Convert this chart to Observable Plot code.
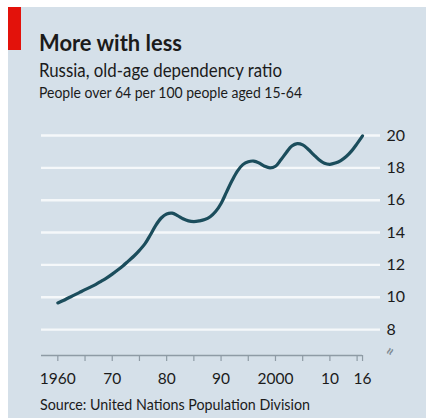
<!DOCTYPE html>
<html>
<head>
<meta charset="utf-8">
<script src="https://cdn.jsdelivr.net/npm/d3@7"></script>
<script src="https://cdn.jsdelivr.net/npm/@observablehq/plot@0.6"></script>
<style>
  html, body { margin: 0; padding: 0; background: #fff; }
  #card {
    position: relative; width: 426px; height: 418px; overflow: hidden; background: #fff;
    font-family: Lato, "Noto Sans", sans-serif; color: #1b1b1b;
  }
  #panel { position: absolute; left: 8px; top: 7px; right: 0; bottom: 0; background: #d5e0e9; }
  #flag { position: absolute; left: 8px; top: 7px; width: 13px; height: 43px; background: #e3120b; }
  #chart { position: absolute; left: 0; top: 115px; }
  #heads { position: absolute; left: 0; top: 0; }
  #heads text { fill: #1b1b1b; }
</style>
</head>
<body>
<div id="card">
  <div id="panel"></div>
  <div id="flag"></div>
  <svg id="heads" width="426" height="418" font-family="Lato, 'Noto Sans', sans-serif">
    <text x="39" y="50.5" font-size="23.5" font-weight="bold" textLength="143" lengthAdjust="spacingAndGlyphs">More with less</text>
    <text x="39" y="77.3" font-size="18.5" textLength="243" lengthAdjust="spacingAndGlyphs">Russia, old-age dependency ratio</text>
    <text x="39" y="98.3" font-size="15.5" textLength="263" lengthAdjust="spacingAndGlyphs">People over 64 per 100 people aged 15-64</text>
    <text x="40" y="410" font-size="16" textLength="270" lengthAdjust="spacingAndGlyphs">Source: United Nations Population Division</text>
  </svg>
  <div id="chart"></div>
</div>
<script>
// Old-age dependency ratio, Russia, 1960-2016
const years = [
  1960, 1961, 1962, 1963, 1964, 1965, 1966, 1967, 1968, 1969,
  1970, 1971, 1972, 1973, 1974, 1975, 1976, 1977, 1978, 1979,
  1980, 1981, 1982, 1983, 1984, 1985, 1986, 1987, 1988, 1989,
  1990, 1991, 1992, 1993, 1994, 1995, 1996, 1997, 1998, 1999,
  2000, 2001, 2002, 2003, 2004, 2005, 2006, 2007, 2008, 2009,
  2010, 2011, 2012, 2013, 2014, 2015, 2016
];
const ratio = [
  9.65, 9.80, 9.97, 10.13, 10.30, 10.47, 10.63, 10.80, 11.00, 11.20,
  11.43, 11.68, 11.95, 12.25, 12.55, 12.90, 13.30, 13.85, 14.45, 14.90,
  15.15, 15.20, 15.05, 14.85, 14.72, 14.68, 14.72, 14.80, 14.98, 15.30,
  15.80, 16.50, 17.20, 17.80, 18.20, 18.38, 18.42, 18.30, 18.10, 18.00,
  18.10, 18.50, 18.95, 19.35, 19.50, 19.42, 19.15, 18.82, 18.50, 18.28,
  18.22, 18.30, 18.45, 18.70, 19.05, 19.50, 19.98
];

// Axis ticks
const yTicks = [8, 10, 12, 14, 16, 18, 20];
const xTickYears = [1960, 1965, 1970, 1975, 1980, 1985, 1990, 1995, 2000, 2005, 2010, 2015, 2016];
const xLabelYears = [1960, 1970, 1980, 1990, 2000, 2010, 2016];
const xLabel = (y) => (y === 1960 || y === 2000) ? String(y) : String(y % 100).padStart(2, "0");

// Scale extents: the y axis is broken below 8, the baseline sits under it
const xDomain = [1957, 2019.3];
const yDomain = [6.4, 20];
const baseline = [{ y: yDomain[0], x1: xDomain[0], x2: 2016 }];

const series = years.map((year, i) => ({ year, value: ratio[i] }));

const chart = Plot.plot({
  width: 426,
  height: 280,
  marginTop: 20,
  marginBottom: 40,
  marginLeft: 41,
  marginRight: 46,
  style: { background: "transparent", fontFamily: "Lato, 'Noto Sans', sans-serif", color: "#1b1b1b", overflow: "visible" },
  x: { domain: xDomain, axis: null },
  y: { domain: yDomain, axis: null },
  marks: [
    Plot.ruleY(yTicks, { stroke: "#f5f8fa", strokeWidth: 2.4 }),
    Plot.ruleY(baseline, { y: "y", x1: "x1", x2: "x2", stroke: "#8e9ba5", strokeWidth: 1.5 }),
    Plot.axisX(xTickYears, { tickSize: 6, tickFormat: () => "", stroke: "#8e9ba5", strokeWidth: 1.2 }),
    Plot.axisX(xLabelYears, { tickSize: 0, tickPadding: 17, tickFormat: xLabel, fontSize: 15.5, fill: "#1b1b1b" }),
    Plot.axisY(yTicks, { anchor: "right", tickSize: 0, tickPadding: 6, fontSize: 16, fill: "#1b1b1b" }),
    // axis-break marker below the 8 label
    Plot.text(["≈"], { frameAnchor: "bottom-right", dx: 16, dy: -6, rotate: -65, fontSize: 15, fontWeight: "bold", fill: "#7f8b94" }),
    Plot.line(series, {
      x: "year", y: "value", curve: "catmull-rom",
      stroke: "#1b4d5c", strokeWidth: 3.2, strokeLinecap: "round", strokeLinejoin: "round"
    })
  ]
});

document.getElementById("chart").appendChild(chart);
</script>
</body>
</html>
